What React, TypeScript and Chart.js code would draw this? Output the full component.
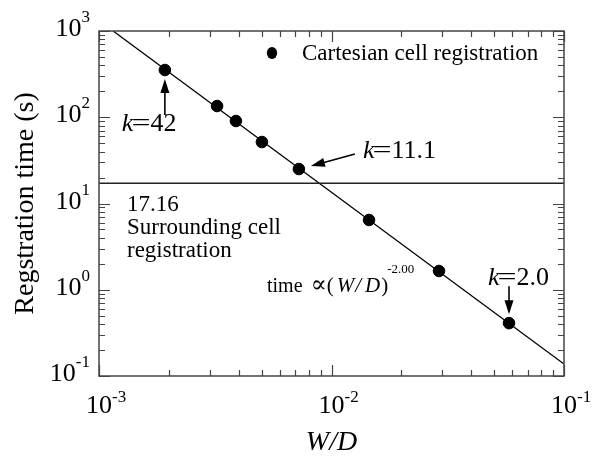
import React, { useEffect, useRef } from "react";
import { Chart, registerables } from "chart.js";
Chart.register(...registerables);

// ---- data ----
const widthRatio = [0.00192, 0.00322, 0.00388, 0.00502, 0.00724, 0.0145, 0.029, 0.058];
const regTime = [353, 135, 90.5, 51.6, 25.1, 6.44, 1.65, 0.41];
const fitX = [0.00115, 0.1];
const fitY = [1000, 0.138];
const surroundX = [0.001, 0.1];
const surroundY = [17.16, 17.16];
const xDecades = [-3, -2, -1];
const yDecades = [-1, 0, 1, 2, 3];
const kLabels = ["42", "11.1", "2.0"];
const kPointIndex = [0, 4, 7];

const FONT = '"Liberation Serif", "Times New Roman", serif';
const AXIS_COLOR = "#444";

function drawArrow(ctx: CanvasRenderingContext2D, x1: number, y1: number, x2: number, y2: number) {
  const a = Math.atan2(y2 - y1, x2 - x1);
  const hl = 14, hw = 4.5;
  const c = Math.cos(a), s = Math.sin(a);
  ctx.beginPath();
  ctx.moveTo(x1, y1);
  ctx.lineTo(x2 - hl * c * 0.7, y2 - hl * s * 0.7);
  ctx.stroke();
  ctx.beginPath();
  ctx.moveTo(x2, y2);
  ctx.lineTo(x2 - hl * c + hw * s, y2 - hl * s - hw * c);
  ctx.lineTo(x2 - hl * c - hw * s, y2 - hl * s + hw * c);
  ctx.closePath();
  ctx.fill();
}

function drawK(ctx: CanvasRenderingContext2D, x: number, y: number, val: string) {
  ctx.textAlign = "left";
  ctx.textBaseline = "alphabetic";
  ctx.font = `italic 26px ${FONT}`;
  ctx.fillText("k", x, y);
  let cx = x + ctx.measureText("k").width - 2;
  ctx.font = `26px ${FONT}`;
  const we = ctx.measureText("=").width;
  ctx.save();
  ctx.translate(cx, y);
  ctx.scale(1.3, 1);
  ctx.fillText("=", 0, 0);
  ctx.restore();
  cx += we * 1.3;
  ctx.fillText(val, cx, y);
}

const overlayPlugin = {
  id: "overlay",
  afterDraw(chart: any) {
    const ctx: CanvasRenderingContext2D = chart.ctx;
    const xs = chart.scales.x;
    const ys = chart.scales.y;
    const { left, right, top, bottom } = chart.chartArea;
    ctx.save();

    // frame
    ctx.strokeStyle = AXIS_COLOR;
    ctx.lineWidth = 1.5;
    ctx.strokeRect(left, top, right - left, bottom - top);

    // ticks (inward, mirrored)
    ctx.lineWidth = 1.2;
    ctx.beginPath();
    for (let i = 0; i < xDecades.length; i++) {
      const e = xDecades[i];
      for (let m = 1; m <= 9; m++) {
        if (i === xDecades.length - 1 && m > 1) break;
        const px = Math.round(xs.getPixelForValue(m * Math.pow(10, e))) + 0.5;
        const len = m === 1 ? 11 : 6;
        ctx.moveTo(px, bottom);
        ctx.lineTo(px, bottom - len);
        ctx.moveTo(px, top);
        ctx.lineTo(px, top + len);
      }
    }
    for (let i = 0; i < yDecades.length; i++) {
      const e = yDecades[i];
      for (let m = 1; m <= 9; m++) {
        if (i === yDecades.length - 1 && m > 1) break;
        const py = Math.round(ys.getPixelForValue(m * Math.pow(10, e))) + 0.5;
        const len = m === 1 ? 11 : 6;
        ctx.moveTo(left, py);
        ctx.lineTo(left + len, py);
        ctx.moveTo(right, py);
        ctx.lineTo(right - len, py);
      }
    }
    ctx.stroke();

    // tick labels
    ctx.fillStyle = "#000";
    ctx.textBaseline = "alphabetic";
    for (const e of xDecades) {
      const px = xs.getPixelForValue(Math.pow(10, e));
      ctx.font = `26px ${FONT}`;
      const w = ctx.measureText("10").width;
      ctx.textAlign = "left";
      ctx.fillText("10", px - w / 2, bottom + 37);
      ctx.font = `17px ${FONT}`;
      ctx.fillText(String(e), px + w / 2, bottom + 26);
    }
    for (const e of yDecades) {
      const py = ys.getPixelForValue(Math.pow(10, e));
      ctx.font = `17px ${FONT}`;
      const ws = ctx.measureText(String(e)).width;
      ctx.textAlign = "right";
      ctx.fillText(String(e), left - 9, py - 9);
      ctx.font = `26px ${FONT}`;
      ctx.fillText("10", left - 9 - ws, py + 5);
    }

    // axis titles
    ctx.save();
    ctx.translate(33, (top + bottom) / 2);
    ctx.rotate(-Math.PI / 2);
    ctx.textAlign = "center";
    ctx.font = `28px ${FONT}`;
    ctx.fillText("Regstration time (s)", 0, 0);
    ctx.restore();

    ctx.textAlign = "center";
    ctx.font = `italic 28px ${FONT}`;
    ctx.fillText("W/D", (left + right) / 2, 450);

    // legend
    ctx.beginPath();
    ctx.ellipse(272, 53, 5.2, 6, 0, 0, Math.PI * 2);
    ctx.fill();
    ctx.textAlign = "left";
    ctx.font = `23px ${FONT}`;
    ctx.fillText("Cartesian cell registration", 302, 60);

    // surrounding cell annotation
    ctx.fillText("17.16", left + 28, 211);
    ctx.fillText("Surrounding cell", left + 28, 234);
    ctx.fillText("registration", left + 28, 257);

    // power law annotation
    let x = 267;
    const by = 292;
    ctx.font = `20px ${FONT}`;
    ctx.fillText("time", x, by);
    x += ctx.measureText("time").width + 8;
    ctx.font = `24px "DejaVu Serif", serif`;
    ctx.fillText("\u221D", x, by);
    x += ctx.measureText("\u221D").width;
    ctx.font = `21px ${FONT}`;
    ctx.fillText("(", x, by);
    x += ctx.measureText("(").width + 3;
    ctx.font = `italic 21px ${FONT}`;
    ctx.fillText("W", x, by);
    x += ctx.measureText("W").width + 1;
    ctx.fillText("/", x, by);
    x += ctx.measureText("/").width + 4;
    ctx.fillText("D", x, by);
    x += ctx.measureText("D").width + 1;
    ctx.font = `21px ${FONT}`;
    ctx.fillText(")", x, by);
    x += ctx.measureText(")").width - 1;
    ctx.font = `13px ${FONT}`;
    ctx.fillText("-2.00", x, by - 19);

    // k annotations
    ctx.strokeStyle = "#000";
    ctx.fillStyle = "#000";
    ctx.lineWidth = 1.6;
    const p = kPointIndex.map((i) => ({
      x: xs.getPixelForValue(widthRatio[i]),
      y: ys.getPixelForValue(regTime[i]),
    }));
    drawArrow(ctx, p[0].x, p[0].y + 45, p[0].x, p[0].y + 9);
    drawK(ctx, p[0].x - 43, p[0].y + 61, kLabels[0]);
    drawArrow(ctx, p[1].x + 56, p[1].y - 15, p[1].x + 12, p[1].y - 3);
    drawK(ctx, p[1].x + 64, p[1].y - 11, kLabels[1]);
    drawArrow(ctx, p[2].x, p[2].y - 37, p[2].x, p[2].y - 9);
    drawK(ctx, p[2].x - 21, p[2].y - 38, kLabels[2]);

    ctx.restore();
  },
};

export default function App() {
  const ref = useRef<HTMLCanvasElement>(null);
  useEffect(() => {
    if (!ref.current) return;
    const chart = new Chart(ref.current, {
      type: "scatter",
      data: {
        datasets: [
          {
            label: "Surrounding cell registration",
            data: surroundX.map((x, i) => ({ x, y: surroundY[i] })),
            showLine: true,
            borderColor: "#222",
            borderWidth: 1.3,
            pointRadius: 0,
          },
          {
            label: "Fit",
            data: fitX.map((x, i) => ({ x, y: fitY[i] })),
            showLine: true,
            borderColor: "#000",
            borderWidth: 1.3,
            pointRadius: 0,
          },
          {
            label: "Cartesian cell registration",
            data: widthRatio.map((x, i) => ({ x, y: regTime[i] })),
            backgroundColor: "#000",
            borderColor: "#000",
            pointRadius: 5.8,
            pointHoverRadius: 5.8,
          },
        ],
      },
      options: {
        animation: false,
        responsive: false,
        maintainAspectRatio: false,
        layout: { padding: { left: 99, top: 31, right: 39, bottom: 87 } },
        plugins: { legend: { display: false }, tooltip: { enabled: false } },
        scales: {
          x: {
            type: "logarithmic",
            min: 0.001,
            max: 0.1,
            ticks: { display: false },
            grid: { display: false, drawTicks: false },
            border: { display: false },
          },
          y: {
            type: "logarithmic",
            min: 0.1,
            max: 1000,
            ticks: { display: false },
            grid: { display: false, drawTicks: false },
            border: { display: false },
          },
        },
      },
      plugins: [overlayPlugin],
    });
    return () => chart.destroy();
  }, []);
  return (
    <div style={{ position: "fixed", left: 0, top: 0, width: 603, height: 463, background: "#fff" }}>
      <canvas ref={ref} width={603} height={463} style={{ width: 603, height: 463 }} />
    </div>
  );
}
